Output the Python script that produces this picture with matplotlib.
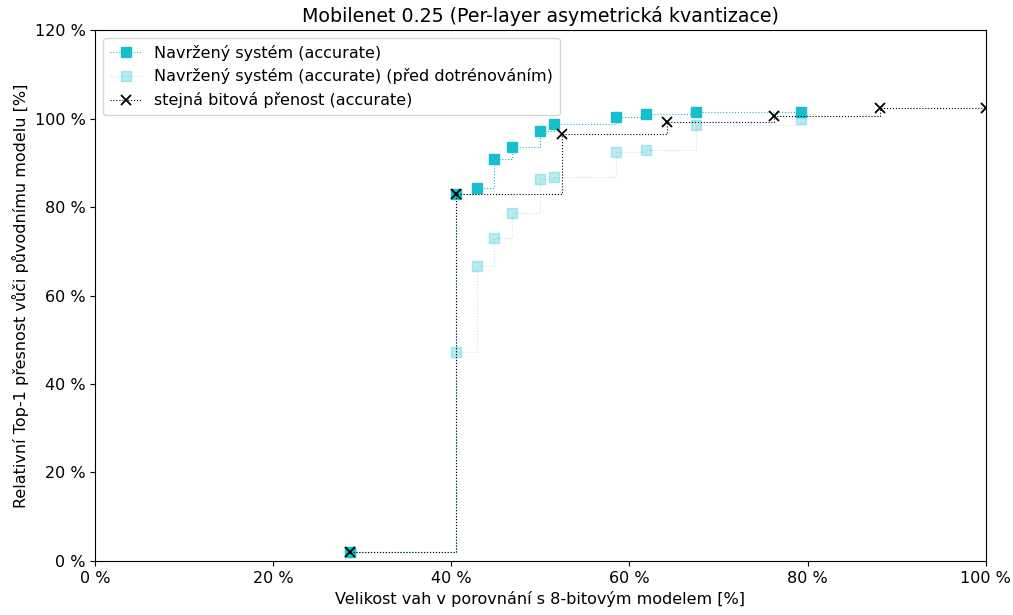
import matplotlib
matplotlib.use("Agg")
from matplotlib import pyplot as plt
from matplotlib.ticker import FuncFormatter

# sizes relative to 8-bit model [%]
sizes = [28.6, 40.5, 42.9, 44.8, 46.8, 49.9, 51.5, 58.5, 61.8, 67.5, 79.3]
acc_tuned = [2.0, 83.0, 84.2, 90.8, 93.5, 97.2, 98.7, 100.4, 101.0, 101.4, 101.5]
acc_untuned = [2.0, 47.2, 66.7, 73.0, 78.7, 86.3, 86.7, 92.4, 92.8, 98.5, 100.0]

uniform_sizes = [28.6, 40.5, 52.4, 64.2, 76.2, 88.1, 100.0]
uniform_acc = [2.0, 83.0, 96.5, 99.3, 100.5, 102.4, 102.4]

plt.rcParams["font.family"] = "DejaVu Sans"
plt.rcParams["font.size"] = 11.5

fig, ax = plt.subplots(figsize=(10.13, 6.15), dpi=100)
fig.subplots_adjust(left=0.094, right=0.973, top=0.951, bottom=0.088)

cyan = "#17becf"
ax.plot(sizes, acc_tuned, drawstyle="steps-post", linestyle=":", linewidth=0.8,
        color=cyan, marker="s", markersize=7, label="Navržený systém (accurate)")
ax.plot(sizes, acc_untuned, drawstyle="steps-post", linestyle=":", linewidth=0.8,
        color=cyan, alpha=0.3, marker="s", markersize=7,
        label="Navržený systém (accurate) (před dotrénováním)")
ax.plot(uniform_sizes, uniform_acc, drawstyle="steps-post", linestyle=":", linewidth=0.8,
        color="black", marker="x", markersize=6.5, markeredgewidth=1.3,
        label="stejná bitová přenost (accurate)")

ax.set_xlim(0, 100)
ax.set_ylim(0, 120)
ax.set_xticks(range(0, 101, 20))
ax.set_yticks(range(0, 121, 20))
pct = FuncFormatter(lambda v, p: f"{v:.0f} %")
ax.xaxis.set_major_formatter(pct)
ax.yaxis.set_major_formatter(pct)

ax.set_title("Mobilenet 0.25 (Per-layer asymetrická kvantizace)", fontsize=13.7)
ax.set_xlabel("Velikost vah v porovnání s 8-bitovým modelem [%]")
ax.set_ylabel("Relativní Top-1 přesnost vůči původnímu modelu [%]")
ax.legend(loc="upper left")

fig.savefig("out.png")
